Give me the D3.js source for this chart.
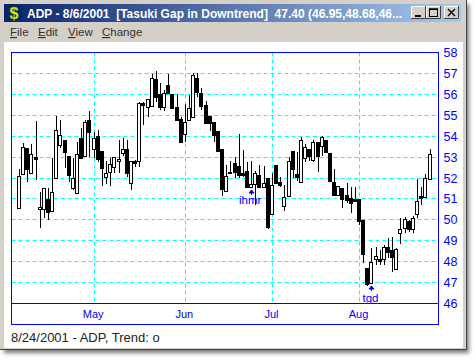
<!DOCTYPE html>
<html>
<head>
<meta charset="utf-8">
<script src="https://cdn.jsdelivr.net/npm/d3@7"></script>
<style>
html, body { margin: 0; padding: 0; background: #fff; overflow: hidden; }
svg { display: block; }
text { font-family: "Liberation Sans", Arial, sans-serif; }
</style>
</head>
<body>
<div id="chart"></div>
<script>
// daily prices
const opens = [50.56,52.19,53.43,52.19,53.00,50.51,50.51,50.99,50.42,51.99,53.57,53.81,53.05,51.52,51.23,53.91,53.05,54.77,53.38,54.00,
    53.29,52.04,52.28,52.52,52.81,53.19,53.38,51.75,52.81,52.81,55.54,55.34,55.44,56.73,56.01,55.39,56.40,56.01,55.39,54.82,
    54.10,54.72,54.91,56.78,56.06,55.49,54.96,54.67,54.24,53.38,51.37,52.28,52.71,52.57,52.23,52.33,51.56,51.71,52.14,51.56,
    51.99,50.27,52.62,51.80,50.66,51.13,53.29,52.19,51.80,52.95,53.34,52.86,53.72,53.53,53.81,53.19,51.80,51.18,51.52,51.18,
    51.04,50.99,50.99,49.98,47.69,46.97,48.12,48.12,48.12,48.69,48.55,47.64,49.36,49.60,49.94,49.55,50.27,51.13,51.08,51.95];
const highs = [52.43,53.67,53.43,53.62,54.72,51.32,51.52,51.52,52.95,54.96,54.77,53.81,53.05,52.95,53.72,54.39,54.77,55.20,54.20,54.29,
    53.29,52.81,52.95,53.00,53.81,53.91,53.81,52.81,52.86,55.63,55.63,55.73,56.97,57.11,56.54,56.21,56.97,56.01,56.01,54.91,
    55.54,55.97,57.02,57.02,56.30,55.68,54.96,54.67,54.24,53.38,52.62,52.81,53.00,54.10,53.34,52.76,52.81,52.33,52.62,52.57,
    51.99,52.23,52.62,52.04,51.66,53.00,53.29,53.24,53.96,53.62,53.34,53.81,53.72,54.00,53.81,53.19,52.43,51.61,51.52,51.75,
    51.56,51.56,50.99,49.98,47.69,48.65,48.69,48.55,48.79,49.12,49.17,48.65,50.08,50.13,49.98,50.18,51.95,51.56,52.19,53.38];
const lows = [50.56,52.14,51.80,52.19,51.90,49.60,50.08,49.98,50.42,51.99,53.43,52.47,51.80,51.42,51.23,52.95,53.05,53.00,52.95,52.76,
    51.61,51.71,51.61,52.23,52.23,53.05,52.04,51.42,52.52,52.52,54.53,54.91,55.44,55.63,55.25,55.20,56.01,55.34,54.77,53.72,
    53.72,54.72,54.91,55.87,55.25,54.63,54.24,53.72,53.29,51.13,51.37,52.23,51.99,51.99,52.04,51.56,51.56,50.70,51.56,51.52,
    49.55,50.27,51.75,51.56,50.42,51.13,51.99,51.85,51.80,52.76,52.81,52.76,52.28,53.05,53.24,51.80,51.18,51.18,50.56,50.80,
    50.32,50.85,49.75,47.93,46.83,46.97,47.83,47.83,47.83,48.17,47.50,47.64,48.84,49.36,49.41,49.36,50.08,50.70,51.08,51.95];
const closes = [52.09,53.48,52.43,53.10,52.90,50.61,51.52,50.37,51.32,54.29,54.05,53.24,52.14,51.99,53.10,52.95,54.67,54.20,53.91,52.90,
    52.47,52.23,52.66,53.00,52.90,53.38,52.23,52.81,52.71,55.58,55.44,55.73,56.78,55.87,55.39,56.06,56.01,55.34,54.77,53.72,
    54.67,55.30,56.92,56.11,55.44,54.63,54.63,54.05,53.29,51.47,52.09,52.23,52.28,52.14,52.14,51.56,51.71,52.23,51.56,51.75,
    49.65,51.66,51.75,51.66,51.08,52.81,52.43,52.04,53.81,53.48,53.00,53.72,53.05,53.96,53.24,51.85,51.18,51.61,50.99,50.94,
    50.80,50.89,49.94,48.36,46.92,47.98,48.26,48.02,48.69,48.45,48.21,48.60,49.55,50.03,49.55,50.08,50.89,51.04,51.99,53.14];

const priceTicks = [46,47,48,49,50,51,52,53,54,55,56,57,58];
const monthLabels = ["May","Jun","Jul","Aug"];
const monthStarts = [18,40,61,82];
const patternLabels = ["ihmr","tgd"];
const patternDays = [56,85];

const windowTitle = "ADP - 8/6/2001  [Tasuki Gap in Downtrend]  47.40 (46.95,48.68,46...";
const menuItems = ["File","Edit","View","Change"];
const statusText = "8/24/2001 - ADP, Trend: o";

const width = 476, height = 362;
const plot = { left: 11.5, right: 438.5, top: 52.5, axis: 303.5, bottom: 324.5 };
const crisp = v => Math.floor(v) + 0.5;

const x = d3.scaleLinear().domain([0, opens.length - 1]).range([19.5, 430]);
const y = d3.scaleLinear().domain([46, 58]).range([plot.axis, plot.top]);

const svg = d3.select("#chart").append("svg")
    .attr("width", width)
    .attr("height", height);

const defs = svg.append("defs");
const grad = defs.append("linearGradient").attr("id", "titleGrad");
grad.append("stop").attr("offset", "0%").attr("stop-color", "#0a246a");
grad.append("stop").attr("offset", "100%").attr("stop-color", "#a6caf0");
const blur = defs.append("filter").attr("id", "shadow")
    .attr("x", "-5%").attr("y", "-5%").attr("width", "110%").attr("height", "110%");
blur.append("feGaussianBlur").attr("stdDeviation", 2);

// window frame and its shadow
svg.append("rect").attr("x", 4).attr("y", 4).attr("width", 465).attr("height", 349)
    .attr("fill", "#777").attr("filter", "url(#shadow)");
svg.append("rect").attr("x", 0).attr("y", 0).attr("width", 467).attr("height", 350).attr("fill", "#d4d0c8");
svg.append("path").attr("d", "M466.5,0V349.5H0").attr("fill", "none").attr("stroke", "#404040");
svg.append("rect").attr("x", 4).attr("y", 4).attr("width", 457).attr("height", 18).attr("fill", "url(#titleGrad)");
svg.append("rect").attr("x", 4).attr("y", 42).attr("width", 459).attr("height", 306).attr("fill", "#fff");

// icon
svg.append("rect").attr("x", 6).attr("y", 5).attr("width", 16).attr("height", 16).attr("fill", "#0a246a");
svg.append("text").attr("x", 14).attr("y", 19).attr("text-anchor", "middle")
    .attr("font-size", 16).attr("font-weight", "bold").attr("fill", "#f4f000").attr("stroke", "#00a000").attr("stroke-width", 0.3)
    .text("$");

svg.append("text").attr("x", 27).attr("y", 17.5)
    .attr("font-size", 12).attr("font-weight", "bold").attr("fill", "#fff")
    .style("white-space", "pre")
    .text(windowTitle);

// title bar buttons
const buttons = svg.append("g");
[411, 426, 444].forEach((bx, i) => {
    const b = buttons.append("g").attr("transform", `translate(${bx},6)`);
    b.append("rect").attr("width", 15).attr("height", 13).attr("fill", "#d4d0c8");
    b.append("path").attr("d", "M0.5,13V0.5H15").attr("fill", "none").attr("stroke", "#fff");
    b.append("path").attr("d", "M14.5,0V12.5H0").attr("fill", "none").attr("stroke", "#404040");
    if (i === 0) b.append("rect").attr("x", 4).attr("y", 9).attr("width", 6).attr("height", 2).attr("fill", "#000");
    if (i === 1) b.append("rect").attr("x", 3.5).attr("y", 3).attr("width", 8).attr("height", 7.5)
        .attr("fill", "none").attr("stroke", "#000");
    if (i === 1) b.append("rect").attr("x", 3).attr("y", 2.5).attr("width", 9).attr("height", 1.5).attr("fill", "#000");
    if (i === 2) b.append("path").attr("d", "M4,3L11,10M11,3L4,10").attr("stroke", "#000").attr("stroke-width", 1.4);
});

// menu bar
const menuX = [10, 38, 68, 102];
menuItems.forEach((m, i) => {
    const t = svg.append("text").attr("x", menuX[i]).attr("y", 36)
        .attr("font-size", 11.5).attr("fill", "#333");
    t.append("tspan").attr("text-decoration", "underline").text(m[0]);
    t.append("tspan").text(m.slice(1));
});

// grid
const grid = svg.append("g").attr("stroke", "#00ffff").attr("stroke-dasharray", "4,3");
grid.selectAll(".h").data(priceTicks.filter(d => d > 46 && d < 58)).join("line")
    .attr("class", "h")
    .attr("x1", plot.left).attr("x2", plot.right)
    .attr("y1", d => crisp(y(d))).attr("y2", d => crisp(y(d)));
grid.selectAll(".v").data(monthStarts).join("line")
    .attr("class", "v")
    .attr("x1", d => crisp(x(d))).attr("x2", d => crisp(x(d)))
    .attr("y1", plot.top).attr("y2", plot.axis);

// frame
const frame = svg.append("g").attr("fill", "none").attr("stroke", "#0000ff");
frame.append("rect").attr("x", plot.left).attr("y", plot.top)
    .attr("width", plot.right - plot.left).attr("height", plot.bottom - plot.top);
frame.append("line").attr("x1", plot.left).attr("x2", plot.right).attr("y1", plot.axis).attr("y2", plot.axis);

// candles
const candles = svg.append("g").selectAll("g").data(opens).join("g");
candles.append("line")
    .attr("x1", (d, i) => crisp(x(i))).attr("x2", (d, i) => crisp(x(i)))
    .attr("y1", (d, i) => Math.round(y(highs[i]))).attr("y2", (d, i) => Math.round(y(lows[i])))
    .attr("stroke", "#000");
candles.append("rect")
    .attr("x", (d, i) => Math.floor(x(i)) - 1.5)
    .attr("width", 3)
    .attr("y", (d, i) => crisp(y(Math.max(opens[i], closes[i]))))
    .attr("height", (d, i) => Math.max(1, Math.round(y(Math.min(opens[i], closes[i])) - y(Math.max(opens[i], closes[i])))))
    .attr("stroke", "#000")
    .attr("fill", (d, i) => closes[i] >= opens[i] ? "#fff" : "#000");

// price axis on the right
const yAxis = svg.append("g")
    .attr("transform", `translate(${plot.right},0)`)
    .call(d3.axisRight(y).tickValues(priceTicks).tickSize(0).tickPadding(5));
yAxis.select(".domain").remove();
yAxis.selectAll("text").attr("fill", "#0000ff").attr("font-size", 12.5).style("font-family", "'Liberation Sans', Arial, sans-serif");

// month labels
svg.selectAll(".month").data(monthLabels).join("text")
    .attr("class", "month")
    .attr("x", (d, i) => x(monthStarts[i]) - 1)
    .attr("y", 318)
    .attr("text-anchor", "middle")
    .attr("font-size", 11)
    .attr("fill", "#0000ff")
    .text(d => d);

// pattern markers: arrow under the candle, label under the arrow
const marks = svg.selectAll(".mark").data(patternLabels).join("g").attr("class", "mark");
marks.append("path")
    .attr("d", (d, i) => {
        const px = crisp(x(patternDays[i]));
        const py = Math.round(y(lows[patternDays[i]])) + 3;
        return `M${px},${py}L${px - 2.5},${py + 3}H${px + 2.5}ZM${px},${py}V${py + 5}`;
    })
    .attr("stroke", "#0000ff")
    .attr("fill", "#0000ff");
marks.append("text")
    .attr("x", (d, i) => x(patternDays[i]) - 1.5)
    .attr("y", (d, i) => Math.round(y(lows[patternDays[i]])) + (i === 0 ? 17 : 19))
    .attr("text-anchor", "middle")
    .attr("font-size", 11.5)
    .attr("fill", "#0000ff")
    .text(d => d);

// status line
svg.append("text").attr("x", 11).attr("y", 342)
    .attr("font-size", 13).attr("fill", "#222")
    .text(statusText);
</script>
</body>
</html>
